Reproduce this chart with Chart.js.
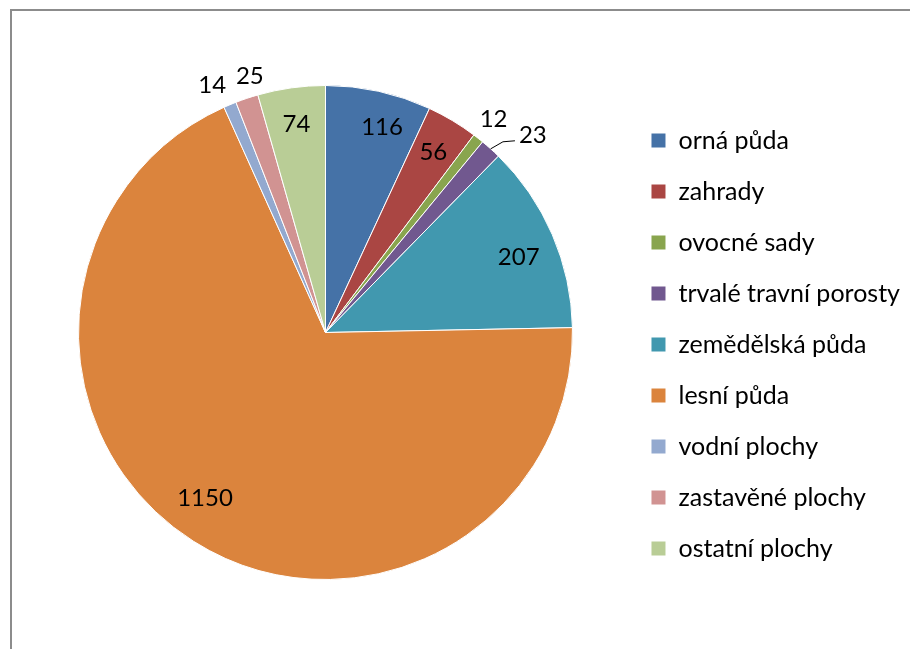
<!DOCTYPE html>
<html>
<head>
<meta charset="utf-8">
<script src="https://cdn.jsdelivr.net/npm/chart.js@4/dist/chart.umd.min.js"></script>
<style>
  html, body { margin: 0; padding: 0; background: #fff; }
  #wrap { position: relative; width: 910px; height: 649px; overflow: hidden; }
  #frame { position: absolute; left: 10px; top: 9px; width: 960px; height: 700px; border: 2px solid #8c8c8c; box-sizing: border-box; }
  #pie { position: absolute; left: 0; top: 0; }
</style>
</head>
<body>
<div id="wrap">
  <div id="frame"></div>
  <canvas id="pie" width="910" height="649"></canvas>
</div>
<script>
// land use categories (ha)
const categories = [
  "orná půda",
  "zahrady",
  "ovocné sady",
  "trvalé travní porosty",
  "zemědělská půda",
  "lesní půda",
  "vodní plochy",
  "zastavěné plochy",
  "ostatní plochy",
];
const areas = [116, 56, 12, 23, 207, 1150, 14, 25, 74];
const sliceColors = [
  "#4572A7", "#AA4643", "#89A54E", "#71588F", "#4198AF",
  "#DB843D", "#93A9CF", "#D19392", "#B9CD96",
];

const FONT = "Lato, 'Liberation Sans', sans-serif";
const labelSize = 24;
const legendSize = 25;
const rowPad = 26;
const boxSize = 15;

// work out the right padding so the legend boxes sit where they should
const mctx = document.createElement("canvas").getContext("2d");
mctx.font = legendSize + "px " + FONT;
const widest = Math.max(...categories.map((c) => mctx.measureText(c).width));
const legendLeft = 652 - rowPad;
const legendWidth = rowPad + boxSize + legendSize / 2 + widest + 10;
const padRight = Math.max(0, 910 - legendLeft - legendWidth);

// value labels drawn on / next to the slices
const sliceLabels = {
  id: "sliceLabels",
  afterDatasetsDraw(chart, args, opts) {
    const ctx = chart.ctx;
    const meta = chart.getDatasetMeta(0);
    const data = chart.data.datasets[0].data;
    ctx.save();
    ctx.font = labelSize + "px " + FONT;
    ctx.fillStyle = "#000";
    ctx.textAlign = "center";
    ctx.textBaseline = "middle";
    meta.data.forEach((arc, i) => {
      const p = arc.getProps(["x", "y", "startAngle", "endAngle", "outerRadius"], true);
      const mid = (p.startAngle + p.endAngle) / 2;
      const small = data[i] < opts.outsideBelow;
      const tweak = opts.nudge[i] || {};
      const ang = mid + ((tweak.angle || 0) * Math.PI) / 180;
      const f = (small ? opts.outside : opts.inside) + (tweak.radius || 0);
      const lx = p.x + Math.cos(ang) * p.outerRadius * f;
      const ly = p.y + Math.sin(ang) * p.outerRadius * f;
      if (tweak.leader) {
        const w = ctx.measureText(String(data[i])).width;
        const ex = lx - w / 2 - 4;
        const ey = ly + 6;
        ctx.beginPath();
        ctx.strokeStyle = "#000";
        ctx.lineWidth = 1;
        ctx.moveTo(p.x + Math.cos(mid) * p.outerRadius, p.y + Math.sin(mid) * p.outerRadius);
        ctx.lineTo(ex - 12, ey + 1);
        ctx.lineTo(ex, ey);
        ctx.stroke();
      }
      ctx.fillText(String(data[i]), lx, ly);
    });
    ctx.restore();
  },
};

// nudge the legend down a little, Excel centres the entries lower than the pie
const legendShift = {
  id: "legendShift",
  afterLayout(chart) {
    chart.legend.top += 12;
    chart.legend.bottom += 12;
  },
};

new Chart(document.getElementById("pie"), {
  type: "pie",
  data: {
    labels: categories,
    datasets: [
      {
        data: areas,
        backgroundColor: sliceColors,
        borderColor: "#ffffff",
        borderWidth: 1,
      },
    ],
  },
  options: {
    responsive: false,
    devicePixelRatio: 1,
    animation: false,
    layout: {
      padding: { left: rowPad, top: 85, bottom: 69, right: padRight },
    },
    plugins: {
      legend: {
        position: "right",
        labels: {
          boxWidth: boxSize,
          boxHeight: boxSize,
          padding: rowPad,
          color: "#000",
          font: { family: FONT, size: legendSize },
        },
      },
      tooltip: { enabled: false },
      sliceLabels: {
        outsideBelow: 30,
        inside: 0.85,
        outside: 1.1,
        nudge: {
          0: { angle: 3, radius: 0.01 },
          3: { angle: 4.4, radius: 0.06, leader: true },
          4: { angle: 2, radius: -0.01 },
          5: { angle: 3.7, radius: -0.02 },
          6: { angle: -1.9 },
          7: { angle: 2.1, radius: -0.02 },
        },
      },
    },
  },
  plugins: [sliceLabels, legendShift],
});
</script>
</body>
</html>
